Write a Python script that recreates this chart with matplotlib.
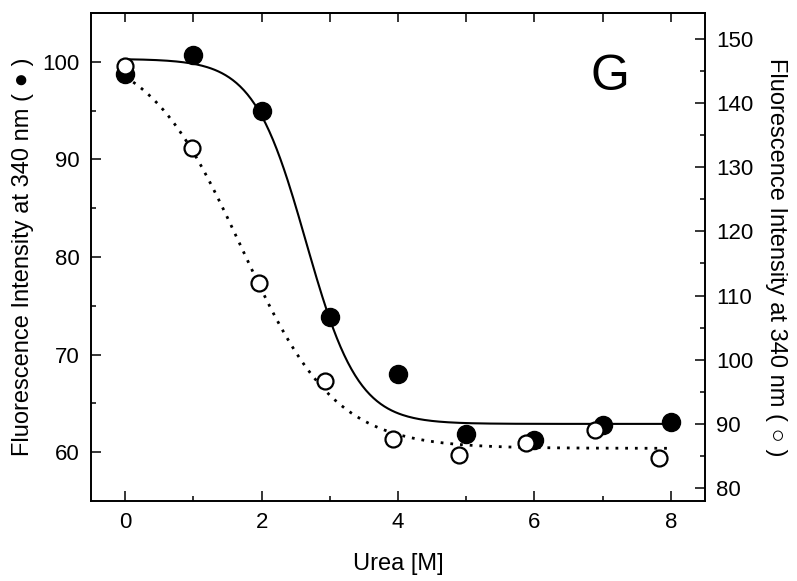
import matplotlib
matplotlib.use('Agg')
import matplotlib.pyplot as plt
import numpy as np

plt.rcParams['font.family'] = ['Liberation Sans', 'DejaVu Sans']

# 荧光强度 (●, 左轴)
urea_filled = [0, 1, 2, 3, 4, 5, 6, 7, 8]
fl_filled = [98.8, 100.7, 95.0, 73.9, 68.0, 61.9, 61.3, 62.8, 63.1]

# 荧光强度 (○, 右轴)
urea_open = [0, 0.98, 1.96, 2.93, 3.92, 4.89, 5.87, 6.88, 7.83]
fl_open = [145.7, 133.0, 111.9, 96.7, 87.7, 85.1, 87.0, 89.0, 84.7]

# 拟合曲线参数 (两态模型): 上平台, 下平台, 中点, 斜率
fit_filled = (100.3, 62.9, 2.65, 2.6)
fit_open = (149.0, 86.2, 1.70, 1.45)


def two_state(x, top, bottom, cm, m):
    e = np.exp(m * (x - cm))
    return (top + bottom * e) / (1 + e)


xx = np.linspace(0, 8, 300)

fig = plt.figure(figsize=(7.97, 5.81), dpi=100)
ax = fig.add_axes([0.1142, 0.1377, 0.7704, 0.8399])
ax2 = ax.twinx()

ax.plot(xx, two_state(xx, *fit_filled), color='black', lw=1.5)
ax.plot(urea_filled, fl_filled, 'o', color='black', ms=13, zorder=3)

ax2.plot(xx, two_state(xx, *fit_open), color='black', lw=2, linestyle=(0, (1, 2.5)))
ax2.plot(urea_open, fl_open, 'o', mfc='white', mec='black', mew=1.6, ms=11.5, zorder=3)

ax.set_xlim(-0.5, 8.5)
ax.set_ylim(55, 105)
ax2.set_ylim(78, 154)

ax.set_xticks([0, 2, 4, 6, 8])
ax.set_xticks([1, 3, 5, 7], minor=True)
ax.set_yticks([60, 70, 80, 90, 100])
ax.set_yticks([65, 75, 85, 95], minor=True)
ax2.set_yticks(range(80, 151, 10))
ax2.set_yticks(range(85, 151, 10), minor=True)

for a in (ax, ax2):
    a.tick_params(which='major', direction='in', length=7, width=1.1, labelsize=16, pad=8)
    a.tick_params(which='minor', direction='in', length=3.5, width=1.1)
    for s in a.spines.values():
        s.set_linewidth(1.2)

top = ax.secondary_xaxis('top')
top.set_xticks(range(0, 9))
top.set_xticklabels([])
top.tick_params(direction='in', length=6.5, width=1.1)
top.spines['top'].set_linewidth(1.2)

ax.set_xlabel('Urea [M]', fontsize=17, labelpad=14)
ax.set_ylabel('Fluorescence Intensity at 340 nm ( \u25cf )', fontsize=17, labelpad=6)
ax2.set_ylabel('Fluorescence Intensity at 340 nm ( \u25cb )', fontsize=17,
               rotation=-90, labelpad=24)

ax.text(7.1, 98.4, 'G', fontsize=36, ha='center', va='center')

fig.savefig('out.png', dpi=100)
